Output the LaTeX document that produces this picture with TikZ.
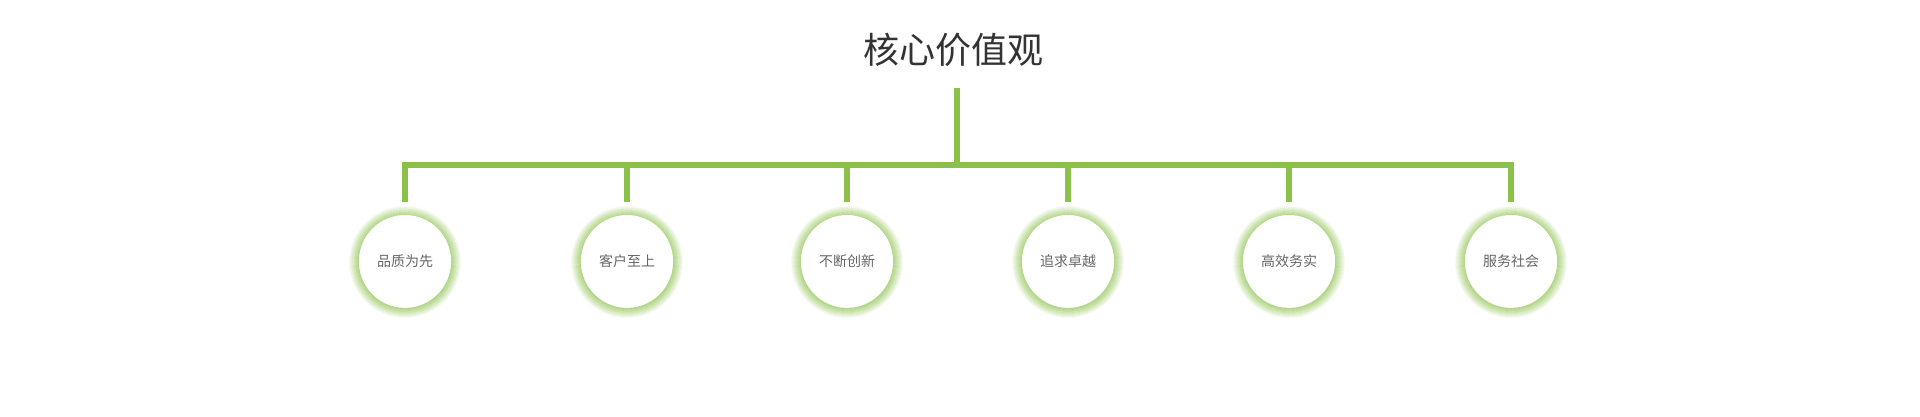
\documentclass[tikz,border=0pt]{standalone}
\usepackage{fontspec}
\newfontfamily\cjk{Noto Sans CJK SC}
\definecolor{leaf}{RGB}{139,193,75}
\definecolor{ink}{RGB}{51,51,51}
\definecolor{soft}{RGB}{102,102,102}
\tikzset{
  bar/.style={draw=leaf, line width=5.5pt},
  value/.style={circle, fill=white, minimum size=92pt, inner sep=0pt,
    font=\cjk\fontsize{14}{16}\selectfont, text=soft}
}
\begin{document}
\begin{tikzpicture}[x=1pt,y=-1pt]
    \useasboundingbox (0,0) rectangle (1920,417);
    \node[font=\cjk\fontsize{36}{42}\selectfont, text=ink] (title) at (953,50) {核心价值观};
    \coordinate (top) at (957,88);
    \coordinate (mid) at (957,165);
    % circles with a soft green rim
    \foreach \x/\t [count=\i] in {405/品质为先, 627/客户至上, 847/不断创新, 1068/追求卓越, 1289/高效务实, 1511/服务社会}{
        \foreach \r [evaluate=\r as \o using 0.06*(11-\r)] in {1,...,10}
            \draw[leaf, line width=1.2pt, opacity=\o] (\x,262) circle (45.5+\r);
        \node[value] (v\i) at (\x,261) {\t};
        \coordinate (j\i) at (\x,202);
    }
    \draw[bar] (top) -- (mid);
    \draw[bar] (j1) -- (j1 |- mid) -- (j6 |- mid) -- (j6);
    \foreach \i in {2,...,5}
        \draw[bar] (j\i) -- (j\i |- mid);
\end{tikzpicture}
\end{document}
